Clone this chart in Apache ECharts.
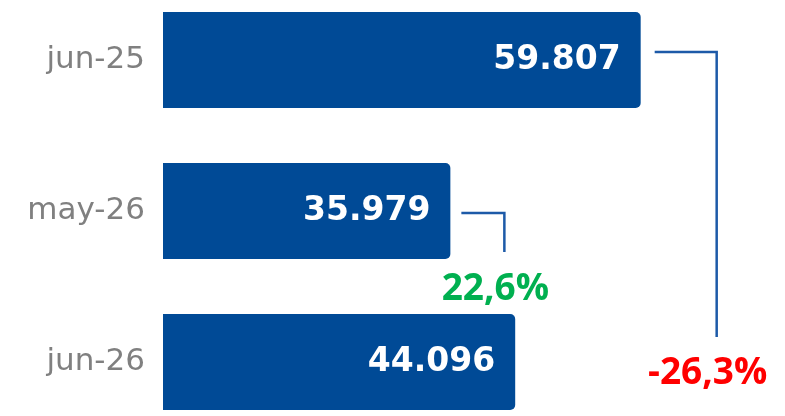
<!DOCTYPE html>
<html lang="es">
<head>
    <meta charset="UTF-8">
    <title>Comparativa jun-25 / may-26 / jun-26</title>
    <script src="https://cdn.jsdelivr.net/npm/echarts@6/dist/echarts.min.js"></script>
    <style>
        html, body { margin: 0; padding: 0; background: #fff; }
    </style>
</head>
<body>
    <div id="chart" style="width: 785px; height: 416px;"></div>
    <script>
        // datos
        var categories = ['jun-25', 'may-26', 'jun-26'];
        var values = [59807, 35979, 44096];
        // variaciones: desde la barra "from" hacia la barra "to"
        var changeFrom = [1, 0];
        var changeTo = [2, 2];
        var changeLabels = ['22,6%', '-26,3%'];

        // estilos de cada conector (offsets en px)
        var connStyle = [
            { gap: 11, elbow: 54, dy: 2, endDy: -110, labelDy: -73, color: '#00b050' },
            { gap: 14, elbow: 76, dy: -8, endDy: -25, labelDy: 11, color: '#ff0000' }
        ];

        var chart = echarts.init(document.getElementById('chart'));

        var fmt = function (v) {
            return String(v).replace(/\B(?=(\d{3})+(?!\d))/g, '.');
        };

        var connData = changeFrom.map(function (f, k) {
            return [values[f], f, changeTo[k], k];
        });

        var option = {
            animation: false,
            // centros de barra en y = 60, 211, 362
            grid: { left: 163, top: 60, width: 615, height: 302 },
            xAxis: {
                type: 'value', min: 0, max: 77000,
                show: false
            },
            yAxis: {
                type: 'category',
                inverse: true,
                boundaryGap: false,
                data: categories,
                axisLine: { show: false },
                axisTick: { show: false },
                splitLine: { show: false },
                axisLabel: {
                    margin: 18,
                    color: '#808080',
                    fontFamily: 'DejaVu Sans',
                    fontSize: 31
                }
            },
            series: [
                {
                    type: 'bar',
                    data: values,
                    barWidth: 96,
                    itemStyle: { color: '#004a96', borderRadius: [0, 5, 5, 0] },
                    label: {
                        show: true,
                        position: 'insideRight',
                        distance: 20,
                        color: '#fff',
                        fontFamily: 'DejaVu Sans',
                        fontWeight: 'bold',
                        fontSize: 33,
                        formatter: function (p) { return fmt(p.value); }
                    }
                },
                {
                    type: 'custom',
                    data: connData,
                    renderItem: function (params, api) {
                        var k = api.value(3);
                        var s = connStyle[k];
                        var p = api.coord([api.value(0), api.value(1)]);
                        var q = api.coord([0, api.value(2)]);
                        var x0 = p[0] + s.gap;
                        var xe = p[0] + s.elbow;
                        var y0 = p[1] + s.dy;
                        var ye = q[1] + s.endDy;
                        return {
                            type: 'group',
                            children: [
                                {
                                    type: 'polyline',
                                    shape: { points: [[x0, y0], [xe, y0], [xe, ye]] },
                                    style: { stroke: '#1d5aa8', lineWidth: 2.5, fill: null }
                                },
                                {
                                    type: 'text',
                                    x: xe - 9,
                                    y: q[1] + s.labelDy,
                                    style: {
                                        text: changeLabels[k],
                                        fill: s.color,
                                        font: 'bold 37px "Open Sans"',
                                        align: 'center',
                                        verticalAlign: 'middle'
                                    }
                                }
                            ]
                        };
                    }
                }
            ]
        };

        chart.setOption(option);
    </script>
</body>
</html>
